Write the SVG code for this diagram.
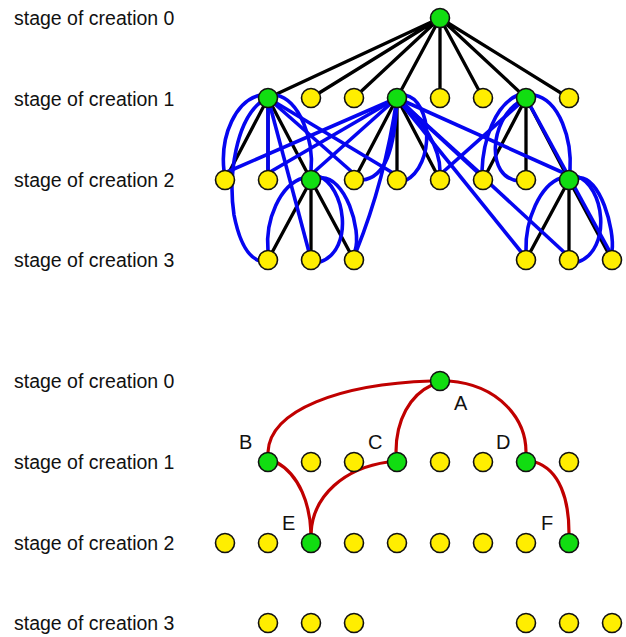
<svg xmlns="http://www.w3.org/2000/svg" width="626" height="637" viewBox="0 0 626 637">
<style>
.lbl{font-family:"Liberation Sans",Arial,sans-serif;font-size:19.5px;fill:#111}
.let{font-family:"Liberation Sans",Arial,sans-serif;font-size:20px;fill:#111}
.g{fill:#11dd11;stroke:#111;stroke-width:1.6}
.y{fill:#ffee00;stroke:#111;stroke-width:1.6}
.k{stroke:#000;stroke-width:3.3;fill:none}
.b{stroke:#0505f0;stroke-width:3.6;fill:none}
.r{stroke:#c00000;stroke-width:3.2;fill:none}
</style>
<rect width="626" height="637" fill="#fff"/>
<g id="labels">
<text class="lbl" x="14" y="25">stage of creation 0</text>
<text class="lbl" x="14" y="106">stage of creation 1</text>
<text class="lbl" x="14" y="187">stage of creation 2</text>
<text class="lbl" x="14" y="267">stage of creation 3</text>
<text class="lbl" x="14" y="388">stage of creation 0</text>
<text class="lbl" x="14" y="469">stage of creation 1</text>
<text class="lbl" x="14" y="550">stage of creation 2</text>
<text class="lbl" x="14" y="630">stage of creation 3</text>
</g>
<g id="connectors">
<g id="tree-black">
<path class="k" d="M440,18 L268,98 M440,18 L311,98 M440,18 L354,98 M440,18 L397,98 M440,18 L440,98 M440,18 L483,98 M440,18 L526,98 M440,18 L569,98"/>
<path class="k" d="M268,98 L225,180 M268,98 L268,180 M268,98 L311,180"/>
<path class="k" d="M397,98 L354,180 M397,98 L397,180 M397,98 L440,180"/>
<path class="k" d="M526,98 L483,180 M526,98 L526,180 M526,98 L569,180"/>
<path class="k" d="M311,180 L268,260 M311,180 L311,260 M311,180 L354,260"/>
<path class="k" d="M569,180 L526,260 M569,180 L569,260 M569,180 L612,260"/>
</g>
<g id="blue">
<path class="b" d="M261,95 C236,100 220,135 224,171"/>
<path class="b" d="M262,101 C236,120 228,175 234,215 C240,245 250,258 260,261"/>
<path class="b" d="M268,98 L268,171"/>
<path class="b" d="M276,95 C300,100 314,140 311,171"/>
<path class="b" d="M268,98 L309,252"/>
<path class="b" d="M268,98 L352,172"/>
<path class="b" d="M268,98 L393,173"/>
<path class="b" d="M397,98 L227,172"/>
<path class="b" d="M397,98 L270,172"/>
<path class="b" d="M397,98 L314,172"/>
<path class="b" d="M397,98 Q385,180 356,252"/>
<path class="b" d="M397,98 C395,150 385,178 362,180"/>
<path class="b" d="M405,95 C432,100 436,165 405,181"/>
<path class="b" d="M397,98 C425,120 440,150 440,171"/>
<path class="b" d="M397,98 L480,173"/>
<path class="b" d="M397,98 L566,174"/>
<path class="b" d="M397,98 L522,253"/>
<path class="b" d="M397,98 L565,253"/>
<path class="b" d="M518,95 C495,105 483,140 482,171"/>
<path class="b" d="M519,102 C490,120 485,178 519,181"/>
<path class="b" d="M526,98 L443,172"/>
<path class="b" d="M534,95 C560,100 572,140 570,171"/>
<path class="b" d="M526,98 L610,252"/>
<path class="b" d="M303,178 C280,185 265,220 268,251"/>
<path class="b" d="M318,176 C345,185 355,250 320,262"/>
<path class="b" d="M320,178 C345,175 362,230 355,251"/>
<path class="b" d="M561,178 C540,185 525,220 526,251"/>
<path class="b" d="M576,176 C605,185 612,250 578,262"/>
<path class="b" d="M578,178 C600,175 615,230 612,251"/>
</g>
<g id="red">
<path class="r" d="M431,381 C340,384 270,410 268,452"/>
<path class="r" d="M432,385 C410,395 396,420 396,452"/>
<path class="r" d="M449,381 C500,385 526,420 526,452"/>
<path class="r" d="M276,462 C300,475 310,505 311,533"/>
<path class="r" d="M388,462 C345,468 313,495 311,533"/>
<path class="r" d="M535,462 C560,470 569,500 569,533"/>
</g>
</g>
<g id="top-nodes">
<g id="t0"><circle class="g" cx="440" cy="18" r="9.5"/></g>
<g id="t1a"><circle class="g" cx="268" cy="98" r="9.5"/></g>
<g id="t1b"><circle class="y" cx="311" cy="98" r="9.5"/></g>
<g id="t1c"><circle class="y" cx="354" cy="98" r="9.5"/></g>
<g id="t1d"><circle class="g" cx="397" cy="98" r="9.5"/></g>
<g id="t1e"><circle class="y" cx="440" cy="98" r="9.5"/></g>
<g id="t1f"><circle class="y" cx="483" cy="98" r="9.5"/></g>
<g id="t1g"><circle class="g" cx="526" cy="98" r="9.5"/></g>
<g id="t1h"><circle class="y" cx="569" cy="98" r="9.5"/></g>
<g id="t2a"><circle class="y" cx="225" cy="180" r="9.5"/></g>
<g id="t2b"><circle class="y" cx="268" cy="180" r="9.5"/></g>
<g id="t2c"><circle class="g" cx="311" cy="180" r="9.5"/></g>
<g id="t2d"><circle class="y" cx="354" cy="180" r="9.5"/></g>
<g id="t2e"><circle class="y" cx="397" cy="180" r="9.5"/></g>
<g id="t2f"><circle class="y" cx="440" cy="180" r="9.5"/></g>
<g id="t2g"><circle class="y" cx="483" cy="180" r="9.5"/></g>
<g id="t2h"><circle class="y" cx="526" cy="180" r="9.5"/></g>
<g id="t2i"><circle class="g" cx="569" cy="180" r="9.5"/></g>
<g id="t3a"><circle class="y" cx="268" cy="260" r="9.5"/></g>
<g id="t3b"><circle class="y" cx="311" cy="260" r="9.5"/></g>
<g id="t3c"><circle class="y" cx="354" cy="260" r="9.5"/></g>
<g id="t3d"><circle class="y" cx="526" cy="260" r="9.5"/></g>
<g id="t3e"><circle class="y" cx="569" cy="260" r="9.5"/></g>
<g id="t3f"><circle class="y" cx="612" cy="260" r="9.5"/></g>
</g>
<g id="bottom-nodes">
<g id="A"><circle class="g" cx="440" cy="381" r="9.5"/><text class="let" x="454" y="410">A</text></g>
<g id="B"><circle class="g" cx="268" cy="462" r="9.5"/><text class="let" x="239" y="449">B</text></g>
<g id="b1b"><circle class="y" cx="311" cy="462" r="9.5"/></g>
<g id="b1c"><circle class="y" cx="354" cy="462" r="9.5"/></g>
<g id="C"><circle class="g" cx="397" cy="462" r="9.5"/><text class="let" x="368" y="449">C</text></g>
<g id="b1e"><circle class="y" cx="440" cy="462" r="9.5"/></g>
<g id="b1f"><circle class="y" cx="483" cy="462" r="9.5"/></g>
<g id="D"><circle class="g" cx="526" cy="462" r="9.5"/><text class="let" x="496" y="449">D</text></g>
<g id="b1h"><circle class="y" cx="569" cy="462" r="9.5"/></g>
<g id="b2a"><circle class="y" cx="225" cy="543" r="9.5"/></g>
<g id="b2b"><circle class="y" cx="268" cy="543" r="9.5"/></g>
<g id="E"><circle class="g" cx="311" cy="543" r="9.5"/><text class="let" x="282" y="530">E</text></g>
<g id="b2d"><circle class="y" cx="354" cy="543" r="9.5"/></g>
<g id="b2e"><circle class="y" cx="397" cy="543" r="9.5"/></g>
<g id="b2f"><circle class="y" cx="440" cy="543" r="9.5"/></g>
<g id="b2g"><circle class="y" cx="483" cy="543" r="9.5"/></g>
<g id="b2h"><circle class="y" cx="526" cy="543" r="9.5"/></g>
<g id="F"><circle class="g" cx="569" cy="543" r="9.5"/><text class="let" x="541" y="530">F</text></g>
<g id="b3a"><circle class="y" cx="268" cy="623" r="9.5"/></g>
<g id="b3b"><circle class="y" cx="311" cy="623" r="9.5"/></g>
<g id="b3c"><circle class="y" cx="354" cy="623" r="9.5"/></g>
<g id="b3d"><circle class="y" cx="526" cy="623" r="9.5"/></g>
<g id="b3e"><circle class="y" cx="569" cy="623" r="9.5"/></g>
<g id="b3f"><circle class="y" cx="612" cy="623" r="9.5"/></g>
</g>
</svg>
